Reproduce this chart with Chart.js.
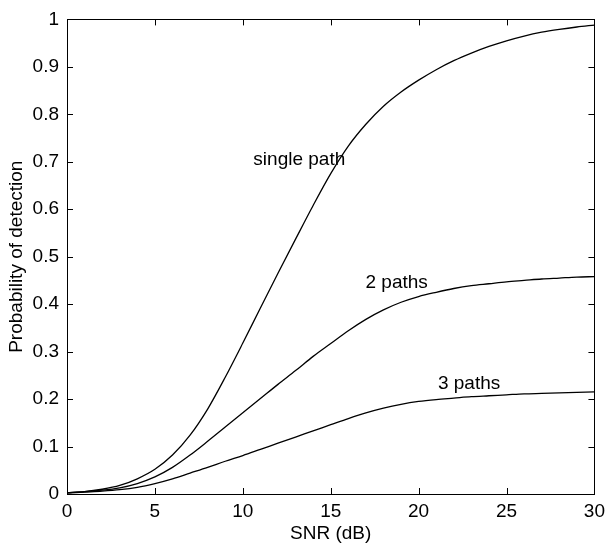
<!DOCTYPE html>
<html lang="en">
<head>
    <meta charset="UTF-8">
    <title>Probability of detection vs SNR</title>
    <script src="https://cdn.jsdelivr.net/npm/chart.js@4.4.1/dist/chart.umd.min.js"></script>
    <style>
        body { margin: 0; padding: 0; background: #ffffff; }
        canvas { display: block; }
    </style>
</head>
<body>
    <canvas id="pdChart" width="611" height="549"></canvas>

    <script>
        // SNR (dB) sample points
        const snr = [0, 1, 2, 3, 4, 5, 6, 7, 8, 9, 10, 11, 12, 13, 14, 15,
                     16, 17, 18, 19, 20, 21, 22, 23, 24, 25, 26, 27, 28, 29, 30];

        // probability of detection
        const pSingle = [0.003, 0.005, 0.010, 0.018, 0.032, 0.052, 0.082, 0.124, 0.179, 0.246, 0.318,
                         0.392, 0.465, 0.537, 0.608, 0.675, 0.733, 0.779, 0.817, 0.847, 0.872,
                         0.894, 0.913, 0.929, 0.943, 0.955, 0.965, 0.973, 0.979, 0.984, 0.988];
        const pTwo = [0.003, 0.005, 0.008, 0.013, 0.022, 0.036, 0.056, 0.082, 0.111, 0.141, 0.171,
                      0.201, 0.231, 0.260, 0.290, 0.317, 0.344, 0.368, 0.388, 0.404, 0.416,
                      0.425, 0.433, 0.439, 0.443, 0.447, 0.450, 0.453, 0.455, 0.457, 0.458];
        const pThree = [0.002, 0.004, 0.006, 0.009, 0.014, 0.022, 0.032, 0.044, 0.056, 0.069, 0.081,
                        0.094, 0.107, 0.120, 0.133, 0.146, 0.159, 0.171, 0.181, 0.189, 0.195,
                        0.199, 0.202, 0.205, 0.207, 0.209, 0.211, 0.212, 0.213, 0.214, 0.215];

        // curve labels, anchored in data units (left edge, baseline)
        const curveLabels = ['single path', '2 paths', '3 paths'];
        const labelX = [10.6, 16.98, 21.1];
        const labelY = [0.694, 0.434, 0.222];

        const FONT = { family: 'Arial, "Liberation Sans", sans-serif', size: 19 };
        const TICK_LEN = 6;

        function toXY(ys) {
            return snr.map((x, i) => ({ x: x, y: ys[i] }));
        }

        function lineSet(label, ys) {
            return {
                label: label,
                data: toXY(ys),
                borderColor: '#000000',
                borderWidth: 1.3,
                pointRadius: 0,
                fill: false,
                cubicInterpolationMode: 'monotone'
            };
        }

        // box around the axes with inward ticks on all four sides (matlab style)
        const boxPlugin = {
            id: 'boxPlugin',
            afterDraw(chart) {
                const ctx = chart.ctx;
                const a = chart.chartArea;
                const xs = chart.scales.x;
                const ys = chart.scales.y;
                ctx.save();
                ctx.strokeStyle = '#000000';
                ctx.lineWidth = 1;
                ctx.beginPath();
                xs.ticks.forEach(t => {
                    const px = Math.round(xs.getPixelForValue(t.value)) + 0.5;
                    ctx.moveTo(px, a.bottom);
                    ctx.lineTo(px, a.bottom - TICK_LEN);
                    ctx.moveTo(px, a.top);
                    ctx.lineTo(px, a.top + TICK_LEN);
                });
                ys.ticks.forEach(t => {
                    const py = Math.round(ys.getPixelForValue(t.value)) + 0.5;
                    ctx.moveTo(a.left, py);
                    ctx.lineTo(a.left + TICK_LEN, py);
                    ctx.moveTo(a.right, py);
                    ctx.lineTo(a.right - TICK_LEN, py);
                });
                ctx.stroke();
                ctx.strokeRect(Math.round(a.left) + 0.5, Math.round(a.top) + 0.5,
                               Math.round(a.right - a.left), Math.round(a.bottom - a.top));

                // curve labels
                ctx.fillStyle = '#000000';
                ctx.font = FONT.size + 'px ' + FONT.family;
                ctx.textAlign = 'left';
                ctx.textBaseline = 'alphabetic';
                curveLabels.forEach((txt, i) => {
                    ctx.fillText(txt, xs.getPixelForValue(labelX[i]), ys.getPixelForValue(labelY[i]));
                });
                ctx.restore();
            }
        };

        const chart = new Chart(document.getElementById('pdChart').getContext('2d'), {
            type: 'line',
            data: {
                datasets: [
                    lineSet('single path', pSingle),
                    lineSet('2 paths', pTwo),
                    lineSet('3 paths', pThree)
                ]
            },
            options: {
                responsive: false,
                animation: false,
                layout: { padding: { top: 17, right: 12, left: 0, bottom: 0 } },
                plugins: {
                    legend: { display: false },
                    tooltip: { enabled: false }
                },
                scales: {
                    x: {
                        type: 'linear',
                        min: 0,
                        max: 30,
                        border: { display: false },
                        grid: { display: false, drawTicks: false },
                        ticks: { stepSize: 5, color: '#000000', font: FONT, padding: 6, maxRotation: 0 },
                        title: { display: true, text: 'SNR (dB)', color: '#000000', font: FONT, padding: { top: 0, bottom: 4 } },
                        afterFit(scale) { scale.height = 55; }
                    },
                    y: {
                        min: 0,
                        max: 1,
                        border: { display: false },
                        grid: { display: false, drawTicks: false },
                        ticks: {
                            stepSize: 0.1, color: '#000000', font: FONT, padding: 8,
                            callback: v => String(Number(v.toFixed(1)))
                        },
                        title: { display: true, text: 'Probability of detection', color: '#000000', font: FONT, padding: { top: 5, bottom: 0 } },
                        afterFit(scale) { scale.width = 67; }
                    }
                }
            },
            plugins: [boxPlugin]
        });
    </script>
</body>
</html>
